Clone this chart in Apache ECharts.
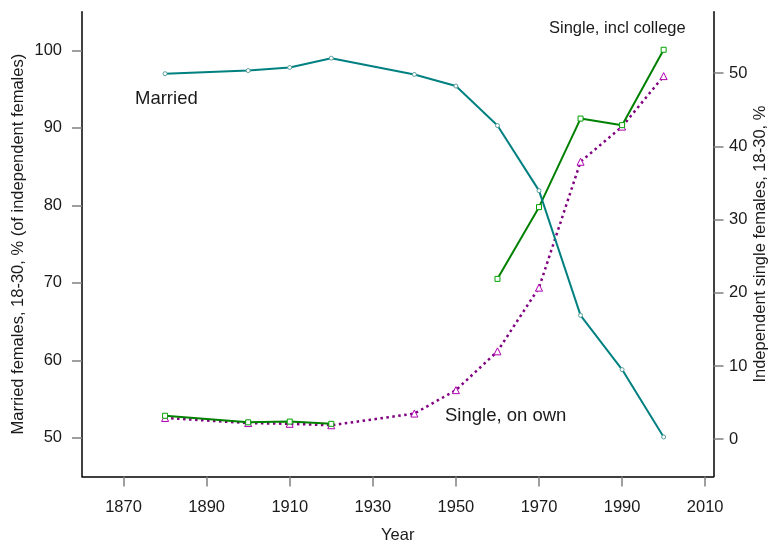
<!DOCTYPE html>
<html>
<head>
  <meta charset="utf-8" />
  <title>Married and single females 18-30</title>
  <script src="https://cdn.jsdelivr.net/npm/echarts@6.0.0/dist/echarts.min.js"></script>
  <style>
    html, body { margin: 0; padding: 0; background: #fff; }
    #chart { width: 769px; height: 541px; }
  </style>
</head>
<body>
<div id="chart"></div>
<script type="text/javascript">
    // data
    var years = [1880, 1900, 1910, 1920, 1940, 1950, 1960, 1970, 1980, 1990, 2000];
    var married = [97.0, 97.4, 97.8, 99.0, 96.9, 95.4, 90.3, 81.9, 65.8, 58.8, 50.1];
    var singleCollege = [3.2, 2.3, 2.4, 2.1, null, null, 21.9, 31.7, 43.8, 42.9, 53.2];
    var singleOwn = [2.9, 2.2, 2.1, 1.9, 3.5, 6.7, 12.0, 20.7, 37.9, 42.7, 49.6];

    var xTicks = [1870, 1890, 1910, 1930, 1950, 1970, 1990, 2010];
    var leftTicks = [50, 60, 70, 80, 90, 100];
    var rightTicks = [0, 10, 20, 30, 40, 50];

    var font = '"Liberation Sans", Arial, sans-serif';
    var txt = '#1a1a1a';

    function pairs(vals) {
        return years.map(function (y, i) {
            return [y, vals[i] === null ? '-' : vals[i]];
        });
    }

    var chart = echarts.init(document.getElementById('chart'));

    function yAxis(pos, min, max, ticks, name, gap, margin) {
        return {
            type: 'value',
            position: pos,
            min: min,
            max: max,
            name: name,
            nameLocation: 'middle',
            nameGap: gap,
            nameMoveOverlap: false,
            nameTextStyle: { fontFamily: font, fontSize: 16.5, color: txt },
            axisLine: { show: true, lineStyle: { color: '#000', width: 1.5 } },
            axisTick: { show: true, inside: false, length: 10, customValues: ticks,
                lineStyle: { color: '#808080', width: 1.5 } },
            axisLabel: { customValues: ticks, margin: margin,
                formatter: function (v) { return String(v); },
                fontFamily: font, fontSize: 16.5, color: txt },
            splitLine: { show: false }
        };
    }

    var option = {
        animation: false,
        backgroundColor: '#fff',
        grid: { left: 82, right: 55.5, top: 11.7, bottom: 64.5,
                containLabel: false, outerBoundsMode: 'none' },
        xAxis: {
            type: 'value',
            min: 1860,
            max: 2012,
            name: 'Year',
            nameLocation: 'middle',
            nameGap: 50,
            nameMoveOverlap: false,
            nameTextStyle: { fontFamily: font, fontSize: 16.5, color: txt },
            axisLine: { show: true, onZero: false, lineStyle: { color: '#000', width: 1.5 } },
            axisTick: { show: true, length: 10, customValues: xTicks,
                lineStyle: { color: '#808080', width: 1.5 } },
            axisLabel: { customValues: xTicks, margin: 22,
                formatter: function (v) { return String(v); },
                fontFamily: font, fontSize: 16.5, color: txt },
            splitLine: { show: false }
        },
        yAxis: [
            yAxis('left', 45, 105, leftTicks, 'Married females, 18-30, % (of independent females)', 55, 20),
            yAxis('right', -5.1, 58.4, rightTicks, 'Independent single females, 18-30, %', 38, 15.5)
        ],
        series: [
            {
                name: 'Married',
                type: 'line',
                yAxisIndex: 0,
                data: pairs(married),
                symbol: 'circle',
                symbolSize: 4,
                lineStyle: { color: '#008080', width: 2 },
                itemStyle: { color: '#fff', borderColor: '#5a9e9e', borderWidth: 1 },
                z: 3
            },
            {
                name: 'Single, incl college',
                type: 'line',
                yAxisIndex: 1,
                data: pairs(singleCollege),
                connectNulls: false,
                symbol: 'rect',
                symbolSize: 5,
                lineStyle: { color: '#008000', width: 2 },
                itemStyle: { color: '#fff', borderColor: '#00a000', borderWidth: 1 },
                z: 2
            },
            {
                name: 'Single, on own',
                type: 'line',
                yAxisIndex: 1,
                data: pairs(singleOwn),
                symbol: 'triangle',
                symbolSize: 7,
                lineStyle: { color: '#800080', width: 2.5, type: [2.5, 3.5] },
                itemStyle: { color: '#fff', borderColor: '#b000b0', borderWidth: 1 },
                z: 1
            }
        ],
        graphic: [
            { type: 'text', left: 135, top: 89,
              style: { text: 'Married', fontFamily: font, fontSize: 18.5, fill: txt } },
            { type: 'text', left: 549, top: 20,
              style: { text: 'Single, incl college', fontFamily: font, fontSize: 16.5, fill: txt } },
            { type: 'text', left: 445, top: 406,
              style: { text: 'Single, on own', fontFamily: font, fontSize: 18.5, fill: txt } }
        ]
    };
    chart.setOption(option);
</script>
</body>
</html>
